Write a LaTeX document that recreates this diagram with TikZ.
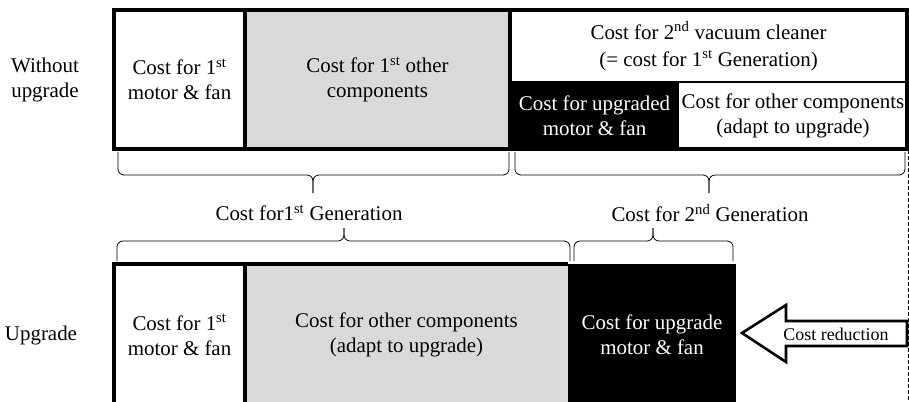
\documentclass[tikz,border=0pt]{standalone}
\usepackage{fontspec}
\setmainfont{Liberation Serif}
\definecolor{cellgray}{RGB}{217,217,217}
\tikzset{
  cell/.style={anchor=north west, inner sep=0pt, outer sep=0pt, align=center,
               font=\fontsize{21}{25}\selectfont, text=black},
  whitecell/.style={cell, fill=white},
  graycell/.style={cell, fill=cellgray},
  darkcell/.style={cell, fill=black, text=white},
  frameline/.style={line width=3.2bp, black},
  bracepath/.style={line width=0.8bp, black, rounded corners=6bp},
  lbl/.style={inner sep=0pt, align=center, font=\fontsize{21}{25}\selectfont},
  smalllbl/.style={inner sep=0pt, font=\fontsize{18}{21}\selectfont},
  blockarrow/.style={line width=2.6bp, black, fill=white, line join=miter},
  guide/.style={line width=0.8bp, black, dash pattern=on 4bp off 2bp}
}
\begin{document}
\begin{tikzpicture}[x=1bp, y=-1bp]
\useasboundingbox (0,0) rectangle (909,401);
\clip (0,0) rectangle (909,401);

% ---------- top row: without upgrade ----------
\node[whitecell, minimum width=131bp, minimum height=139bp] (A) at (114,10)
  {Cost for 1\textsuperscript{st}\\motor \& fan};
\node[graycell, minimum width=265bp, minimum height=139bp] (B) at (245,10)
  {Cost for 1\textsuperscript{st} other\\components};
\node[whitecell, minimum width=397bp, minimum height=72bp,
      font=\fontsize{21}{27}\selectfont] (C) at (510,10)
  {Cost for 2\textsuperscript{nd} vacuum cleaner\\(= cost for 1\textsuperscript{st} Generation)};
\node[darkcell, minimum width=169bp, minimum height=67bp] (D) at (510,82)
  {Cost for upgraded\\motor \& fan};
\node[whitecell, minimum width=228bp, minimum height=67bp] (E) at (679,82)
  {Cost for other components\\(adapt to upgrade)};

\draw[frameline] (A.north west) rectangle (E.south east);
\draw[frameline] (A.north east) -- (A.south east);
\draw[frameline] (B.north east) -- (B.south east);
\draw[line width=2.5bp] (C.south west) -- (C.south east);

% ---------- bottom row: upgrade ----------
\node[whitecell, minimum width=131bp, minimum height=142bp] (F) at (114,264)
  {Cost for 1\textsuperscript{st}\\motor \& fan};
\node[graycell, minimum width=323bp, minimum height=142bp] (G) at (245,264)
  {Cost for other components\\(adapt to upgrade)};
\node[darkcell, minimum width=168bp, minimum height=142bp] (H) at (568,264)
  {Cost for upgrade\\motor \& fan};

\draw[frameline] (F.south west) -- (F.north west) -- (G.north east);
\draw[frameline] (F.north east) -- (F.south east);

% ---------- row labels ----------
\node[lbl] (wo) at (45,80) {Without\\upgrade};
\node[lbl] (up) at (41,335) {Upgrade};

% ---------- braces under top row ----------
\draw[bracepath] (118,152) -- (118,175) -- (313,175) -- (313,193);
\draw[bracepath] (509,152) -- (509,175) -- (313,175) -- (313,193);
\draw[bracepath] (515,152) -- (515,175) -- (709,175) -- (709,193);
\draw[bracepath] (905,152) -- (905,175) -- (709,175) -- (709,193);

\node[lbl] (g1) at (309,213) {Cost for1\textsuperscript{st} Generation};
\node[lbl] (g2) at (710,213) {Cost for 2\textsuperscript{nd} Generation};

% ---------- braces over bottom row ----------
\draw[bracepath] (117,261) -- (117,241) -- (344,241) -- (344,228);
\draw[bracepath] (570,261) -- (570,241) -- (344,241) -- (344,228);
\draw[bracepath] (574,261) -- (574,241) -- (653,241) -- (653,228);
\draw[bracepath] (733,261) -- (733,241) -- (653,241) -- (653,228);

% ---------- dashed guide and cost reduction arrow ----------
\coordinate (dtop) at (908,150);
\coordinate (dbot) at (908,401);
\draw[guide] (dtop) -- (dbot);

\draw[blockarrow] (742,333) -- (786,305) -- (786,321) -- (907,321)
  -- (907,346) -- (786,346) -- (786,362) -- cycle;
\node[smalllbl] (cr) at (836,334) {Cost reduction};
\end{tikzpicture}
\end{document}
